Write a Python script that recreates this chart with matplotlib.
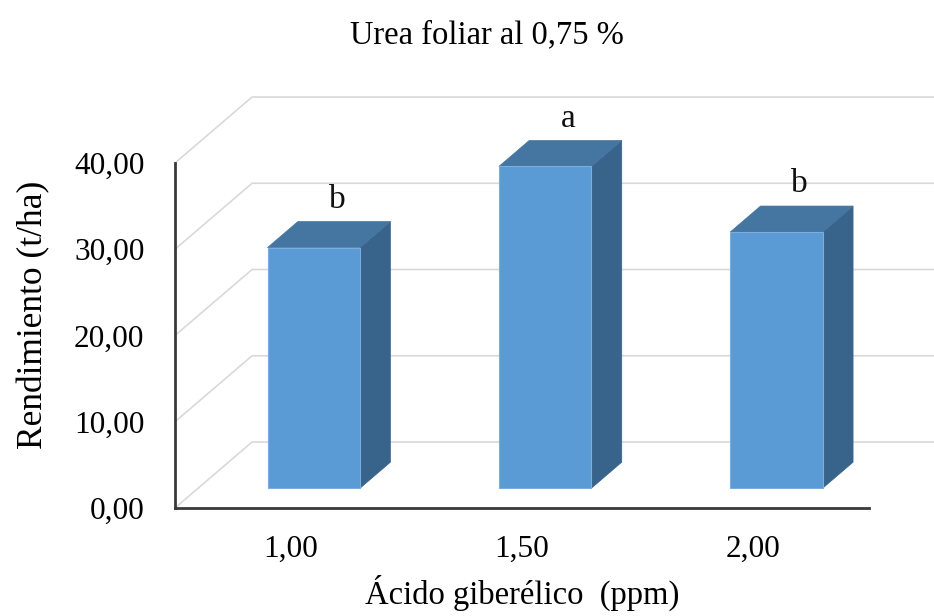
import numpy as np
import matplotlib.pyplot as plt

plt.rcParams['font.family'] = ['Liberation Serif', 'DejaVu Serif']

# datos
categorias = ['1,00', '1,50', '2,00']
rendimiento = [27.9, 37.3, 29.7]
letras = ['b', 'a', 'b']
yticks = [0, 10, 20, 30, 40]
ytick_labels = ['0,00', '10,00', '20,00', '30,00', '40,00']

# vista oblicua tipo Excel 3D
DX = 0.333   # desplazamiento en x (categorias) de la pared del fondo
DY = 7.65    # desplazamiento en y (valores) de la pared del fondo
Z0, Z1 = 0.30, 0.694   # profundidad de las barras
ANCHO = 0.4

def P(x, v, z):
    return (x + z * DX, v + z * DY)

W, H = 934, 616
fig = plt.figure(figsize=(W / 100, H / 100), dpi=100)
ax = fig.add_axes([175 / W, (H - 508) / H, (869 - 175) / W, (508 - 163) / H])
ax.set_xlim(0, len(categorias))
ax.set_ylim(0, 40)

grid_c = '#d9d9d9'
n = len(categorias)
for v in yticks:
    x0, y0 = P(0, v, 0)
    x1, y1 = P(0, v, 1)
    x2, y2 = P(n, v, 1)
    ax.plot([x0, x1, x2], [y0, y1, y2], color=grid_c, lw=1.2,
            clip_on=False, zorder=1)

for i, v in enumerate(rendimiento):
    xl, xr = i + 0.5 - ANCHO / 2, i + 0.5 + ANCHO / 2
    frente = [P(xl, 0, Z0), P(xr, 0, Z0), P(xr, v, Z0), P(xl, v, Z0)]
    tapa = [P(xl, v, Z0), P(xr, v, Z0), P(xr, v, Z1), P(xl, v, Z1)]
    lado = [P(xr, 0, Z0), P(xr, 0, Z1), P(xr, v, Z1), P(xr, v, Z0)]
    ax.add_patch(plt.Polygon(lado, closed=True, fc='#38638b', ec='#38638b',
                             lw=0.5, zorder=3, clip_on=False))
    ax.add_patch(plt.Polygon(tapa, closed=True, fc='#4575a1', ec='#4575a1',
                             lw=0.5, zorder=3, clip_on=False))
    ax.add_patch(plt.Polygon(frente, closed=True, fc='#5b9bd5', ec='#7aaee0',
                             lw=0.8, zorder=4, clip_on=False))
    tx = P(i + 0.5, v, 0.6)[0]
    ty = P(i + 0.5, v, Z1)[1]
    ax.annotate(letras[i], (tx, ty), xytext=(0, 10), textcoords='offset points',
                ha='center', va='baseline', fontsize=24, color='#111111',
                annotation_clip=False)

ax.set_xticks([i + 0.5 for i in range(n)])
ax.set_xticklabels(categorias, fontsize=22.5)
ax.set_yticks(yticks)
ax.set_yticklabels(ytick_labels, fontsize=22.5)
ax.tick_params(length=0)
ax.tick_params(axis='x', pad=19)
ax.tick_params(axis='y', pad=22)
for s in ['top', 'right']:
    ax.spines[s].set_visible(False)
for s in ['left', 'bottom']:
    ax.spines[s].set_color('#3a3a3a')
    ax.spines[s].set_linewidth(2)
    ax.spines[s].set_zorder(5)
ax.patch.set_alpha(0)

ax.set_xlabel('Ácido giberélico  (ppm)', fontsize=23.5, labelpad=8)
ax.set_ylabel('Rendimiento (t/ha)', fontsize=25.5, labelpad=17, y=0.56)
fig.text(487 / W, 1 - 35 / H, 'Urea foliar al 0,75 %', ha='center', va='center',
         fontsize=23.5)

fig.savefig('out.png', dpi=100)
